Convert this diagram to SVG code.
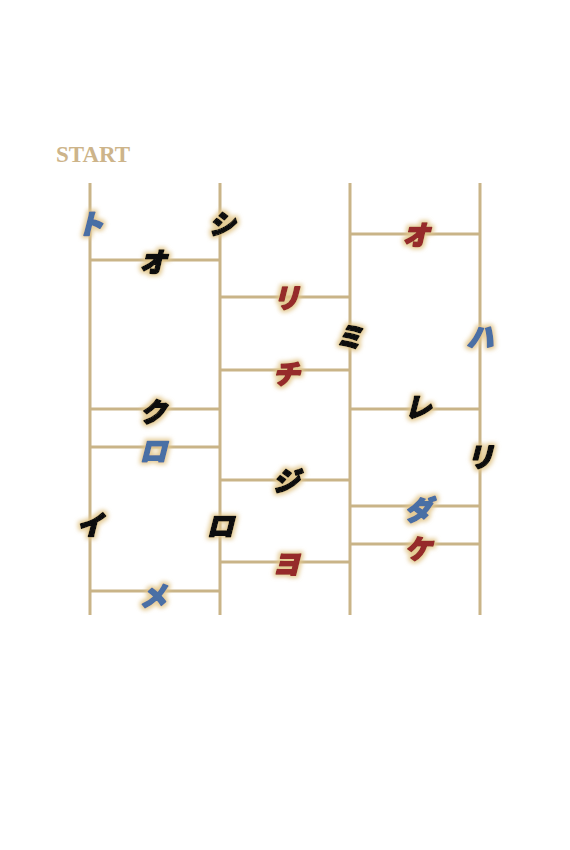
<svg xmlns="http://www.w3.org/2000/svg" width="570" height="850" viewBox="0 0 570 850">
<defs>
<filter id="glow" x="-50%" y="-50%" width="200%" height="200%">
<feMorphology in="SourceAlpha" operator="dilate" radius="1.5" result="d"/>
<feGaussianBlur in="d" stdDeviation="2" result="b"/>
<feFlood flood-color="#e2c68a" flood-opacity="0.9"/>
<feComposite in2="b" operator="in" result="g"/>
<feMerge><feMergeNode in="g"/><feMergeNode in="SourceGraphic"/></feMerge>
</filter>
</defs>
<style>
.ln{stroke:#c9b488;stroke-width:3;fill:none}
.k{font-family:"Noto Sans CJK JP","Noto Sans CJK SC",sans-serif;font-weight:900;font-size:27px;text-anchor:middle;dominant-baseline:central;filter:url(#glow);font-style:oblique;stroke-width:1.6;stroke-linejoin:round}
.bk{fill:#111;stroke:#111}
.bl{fill:#4a6fa5;stroke:#4a6fa5}
.rd{fill:#962a2a;stroke:#962a2a}
.start{font-family:"Liberation Serif",serif;font-weight:bold;font-size:23px;fill:#cdb48a}
</style>
<rect width="570" height="850" fill="#fff"/>
<text class="start" x="56" y="162">START</text>
<g id="connectors">
<line class="ln" x1="90" y1="183" x2="90" y2="615"/>
<line class="ln" x1="220" y1="183" x2="220" y2="615"/>
<line class="ln" x1="350" y1="183" x2="350" y2="615"/>
<line class="ln" x1="480" y1="183" x2="480" y2="615"/>
<line class="ln" x1="90" y1="260" x2="220" y2="260"/>
<line class="ln" x1="350" y1="234" x2="480" y2="234"/>
<line class="ln" x1="220" y1="297" x2="350" y2="297"/>
<line class="ln" x1="220" y1="370" x2="350" y2="370"/>
<line class="ln" x1="90" y1="409" x2="220" y2="409"/>
<line class="ln" x1="350" y1="409" x2="480" y2="409"/>
<line class="ln" x1="90" y1="447" x2="220" y2="447"/>
<line class="ln" x1="220" y1="480" x2="350" y2="480"/>
<line class="ln" x1="350" y1="506" x2="480" y2="506"/>
<line class="ln" x1="350" y1="544" x2="480" y2="544"/>
<line class="ln" x1="220" y1="562" x2="350" y2="562"/>
<line class="ln" x1="90" y1="591" x2="220" y2="591"/>
</g>
<g id="n1"><text class="k bl" x="90" y="222">ト</text></g>
<g id="n2"><text class="k bk" x="222" y="222">シ</text></g>
<g id="n3"><text class="k bk" x="153" y="260">オ</text></g>
<g id="n4"><text class="k rd" x="416" y="233">オ</text></g>
<g id="n5"><text class="k rd" x="286" y="296">リ</text></g>
<g id="n6"><text class="k bk" x="349" y="335">ミ</text></g>
<g id="n7"><text class="k bl" x="480" y="335">ハ</text></g>
<g id="n8"><text class="k rd" x="286" y="372">チ</text></g>
<g id="n9"><text class="k bk" x="153" y="410">ク</text></g>
<g id="n10"><text class="k bk" x="418" y="405">レ</text></g>
<g id="n11"><text class="k bl" x="153" y="449">ロ</text></g>
<g id="n12"><text class="k bk" x="480" y="455">リ</text></g>
<g id="n13"><text class="k bk" x="286" y="479">ジ</text></g>
<g id="n14"><text class="k bl" x="418" y="508">ダ</text></g>
<g id="n15"><text class="k bk" x="90" y="523">イ</text></g>
<g id="n16"><text class="k bk" x="220" y="524">ロ</text></g>
<g id="n17"><text class="k rd" x="418" y="547">ケ</text></g>
<g id="n18"><text class="k rd" x="286" y="562">ヨ</text></g>
<g id="n19"><text class="k bl" x="153" y="594">メ</text></g>
</svg>
